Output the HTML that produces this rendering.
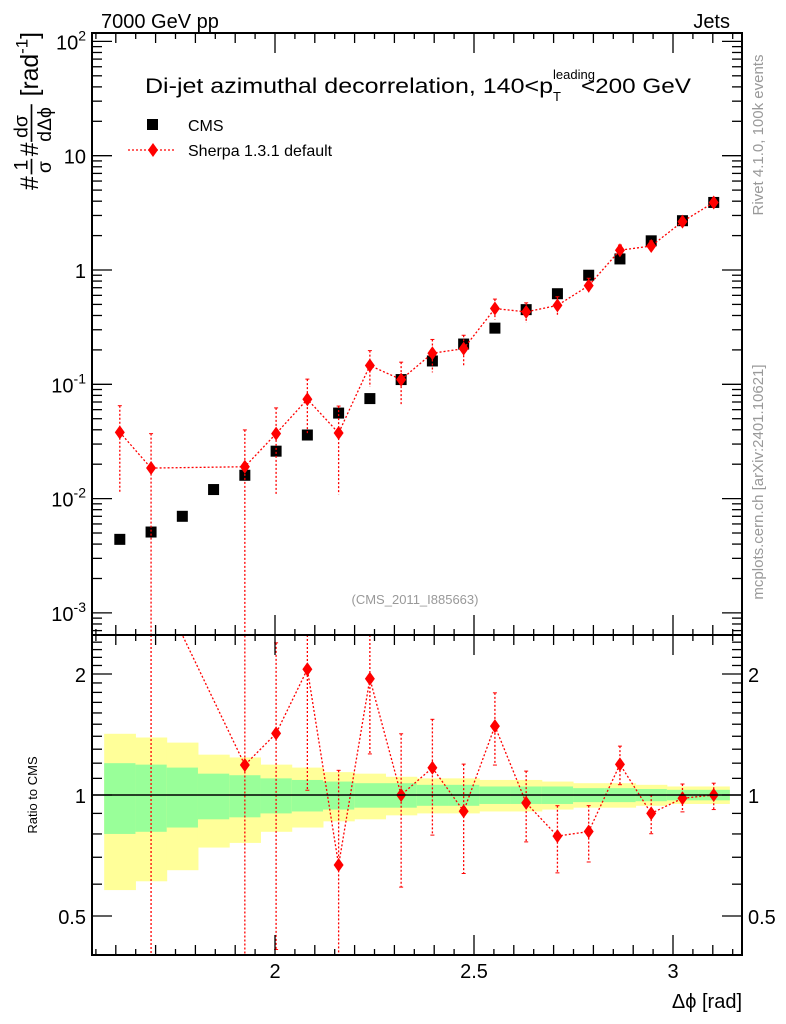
<!DOCTYPE html>
<html><head><meta charset="utf-8"><style>
html,body{margin:0;padding:0;background:#fff;width:786px;height:1024px;overflow:hidden;}
svg{display:block;font-family:"Liberation Sans",sans-serif;}
</style></head><body>
<svg id="chart" width="786" height="1024" viewBox="0 0 786 1024" xmlns="http://www.w3.org/2000/svg">
<defs>
<clipPath id="clipMain"><rect x="92" y="33" width="650" height="602"/></clipPath>
<clipPath id="clipRatio"><rect x="92" y="635" width="650" height="320"/></clipPath>
</defs>
<g id="bands" clip-path="url(#clipRatio)"></g>
<g id="marks"></g>
<g id="axes"></g>
<text x="101" y="28" font-size="20">7000 GeV pp</text>
<text x="730" y="28" font-size="20" text-anchor="end">Jets</text>
<g>
<text x="145" y="93" font-size="21" textLength="408" lengthAdjust="spacingAndGlyphs">Di-jet azimuthal decorrelation, 140&lt;p</text>
<text x="553" y="79" font-size="13">leading</text>
<text x="553" y="101" font-size="13">T</text>
<text x="581" y="93" font-size="21" textLength="110" lengthAdjust="spacingAndGlyphs">&lt;200 GeV</text>
</g>
<rect x="147" y="119" width="11" height="11" fill="#000"/>
<text x="188" y="131" font-size="16">CMS</text>
<line x1="128" y1="150" x2="175" y2="150" stroke="red" stroke-width="1.3" stroke-dasharray="2,2"/>
<path d="M153 143 L158 150 L153 157 L148 150 Z" fill="red"/>
<text x="188" y="156" font-size="16">Sherpa 1.3.1 default</text>
<text x="415" y="604" font-size="13" fill="#999" text-anchor="middle">(CMS_2011_I885663)</text>
<text transform="translate(763,135) rotate(-90)" font-size="15" fill="#999" text-anchor="middle">Rivet 4.1.0,  100k events</text>
<text transform="translate(763,482) rotate(-90)" font-size="15" fill="#999" text-anchor="middle">mcplots.cern.ch [arXiv:2401.10621]</text>
<g transform="translate(38,86) rotate(-90) scale(1.3)" font-size="19">
<text x="-80" y="0">#</text>
<text x="-65" y="-8" font-size="15">1</text>
<line x1="-68" y1="-5" x2="-56" y2="-5" stroke="#000" stroke-width="1.3"/>
<text x="-67" y="10" font-size="15">σ</text>
<text x="-54" y="0">#</text>
<text x="-40" y="-8" font-size="15">dσ</text>
<line x1="-43" y1="-5" x2="-14" y2="-5" stroke="#000" stroke-width="1.3"/>
<text x="-43" y="10" font-size="15">dΔϕ</text>
<text x="-8" y="0">[rad<tspan font-size="13" dy="-8">-1</tspan><tspan dy="8">]</tspan></text>
</g>
<text transform="translate(37,795) rotate(-90)" font-size="13" text-anchor="middle">Ratio to CMS</text>
<text x="742" y="1008" font-size="20" text-anchor="end">Δϕ [rad]</text>
</svg>
<script>
const cmsValues=[0.0044,0.0051,0.007,0.012,0.016,0.026,0.036,0.056,0.075,0.11,0.16,0.225,0.31,0.45,0.62,0.9,1.25,1.8,2.7,3.9];
const sherpaValues=[0.038,0.0185,null,null,0.019,0.037,0.074,0.0375,0.146,0.11,0.187,0.205,0.46,0.43,0.49,0.73,1.49,1.62,2.65,3.9];
const sherpaRelHi=[0.71,1.0,0,0,1.1,0.68,0.5,0.72,0.35,0.42,0.32,0.31,0.21,0.2,0.19,0.16,0.11,0.11,0.085,0.07];
const sherpaRelLo=[0.71,1.0,0,0,1.0,0.71,0.5,0.71,0.35,0.41,0.32,0.3,0.2,0.2,0.19,0.16,0.11,0.11,0.075,0.08];
const cmsTotErr=[0.42,0.39,0.35,0.26,0.24,0.19,0.17,0.14,0.13,0.11,0.10,0.10,0.09,0.09,0.08,0.07,0.07,0.06,0.05,0.05];
const cmsStatErr=[0.20,0.19,0.17,0.13,0.12,0.10,0.09,0.08,0.07,0.07,0.06,0.06,0.05,0.05,0.05,0.04,0.04,0.035,0.03,0.03];
const xTickLabels=["2","2.5","3"];
const yTickLabels=["10^-3","10^-2","10^-1","1","10","10^2"];
const ratioTickLabels=["0.5","1","2"];

const NS="http://www.w3.org/2000/svg";
const L=92,R=742,MT=33,MB=635,RT=635,RB=955;
const nb=cmsValues.length, lo=Math.PI/2, bw=(Math.PI-lo)/nb;
const xs=v=>275+(v-2)*398;
const ym=v=>270-Math.log10(v)*114.3;
const yr=v=>795-Math.log2(v)*121;
const cl=(y,a,b)=>Math.max(a,Math.min(b,y));
function mk(tag,attrs,parent){const e=document.createElementNS(NS,tag);for(const k in attrs)e.setAttribute(k,attrs[k]);parent.appendChild(e);return e;}
const bands=document.getElementById('bands'),marks=document.getElementById('marks'),axes=document.getElementById('axes');
for(let i=0;i<nb;i++){
 const x0=xs(lo+i*bw),x1=xs(lo+(i+1)*bw);
 let r=mk('rect',{x:x0,y:yr(1+cmsTotErr[i]),width:x1-x0+0.5,height:yr(1-cmsTotErr[i])-yr(1+cmsTotErr[i]),fill:'#ffff99'},bands);
 
 
 let g=mk('rect',{x:x0,y:yr(1+cmsStatErr[i]),width:x1-x0+0.5,height:yr(1-cmsStatErr[i])-yr(1+cmsStatErr[i]),fill:'#99ff99'},bands);
 
 
}
const one=mk('line',{x1:L,x2:R,y1:yr(1),y2:yr(1),stroke:'#000','stroke-width':1.5},axes);


const gm=mk('g',{'clip-path':'url(#clipMain)'},marks);
const gr=mk('g',{'clip-path':'url(#clipRatio)'},marks);
const cx=i=>xs(lo+(i+0.5)*bw);
let pm=[],pr=[];
for(let i=0;i<nb;i++){
 const s=mk('rect',{x:cx(i)-5.5,y:ym(cmsValues[i])-5.5,width:11,height:11,fill:'#000'},gm);
 
 
 const v=sherpaValues[i]; if(v==null)continue;
 const r=v/cmsValues[i];
 pm.push(cx(i)+','+ym(v)); pr.push(cx(i)+','+yr(r));
}
mk('polyline',{points:pm.join(' '),fill:'none',stroke:'red','stroke-width':1.3,'stroke-dasharray':'2,2'},gm);
mk('polyline',{points:pr.join(' '),fill:'none',stroke:'red','stroke-width':1.3,'stroke-dasharray':'2,2'},gr);
function diamond(x,y,g,name){const d=mk('path',{d:`M${x} ${y-7}L${x+5} ${y}L${x} ${y+7}L${x-5} ${y}Z`,fill:'red'},g);
 
 }
for(let i=0;i<nb;i++){
 const v=sherpaValues[i]; if(v==null)continue;
 const hi=v*(1+sherpaRelHi[i]), lw=Math.max(v*(1-sherpaRelLo[i]),1e-6);
 const r=v/cmsValues[i], rh=hi/cmsValues[i], rl=lw/cmsValues[i];
 mk('line',{x1:cx(i),x2:cx(i),y1:cl(ym(hi),MT,MB),y2:cl(ym(lw),MT,MB),stroke:'red','stroke-width':1.3,'stroke-dasharray':'2,2'},gm);
 mk('line',{x1:cx(i)-2,x2:cx(i)+2,y1:ym(hi),y2:ym(hi),stroke:'red','stroke-width':1},gm);
 mk('line',{x1:cx(i),x2:cx(i),y1:cl(yr(rh),RT,RB),y2:cl(yr(rl),RT,RB),stroke:'red','stroke-width':1.3,'stroke-dasharray':'2,2'},gr);
 if(yr(rh)>RT) mk('line',{x1:cx(i)-2,x2:cx(i)+2,y1:yr(rh),y2:yr(rh),stroke:'red','stroke-width':1},gr);
 if(yr(rl)<RB) mk('line',{x1:cx(i)-2,x2:cx(i)+2,y1:yr(rl),y2:yr(rl),stroke:'red','stroke-width':1},gr);
 diamond(cx(i),ym(v),gm,'sherpa-point');
 if(yr(r)>RT) diamond(cx(i),yr(r),gr,'sherpa-ratio-point');
}
mk('rect',{x:L,y:MT,width:R-L,height:MB-MT,fill:'none',stroke:'#000','stroke-width':2},axes);
mk('rect',{x:L,y:RT,width:R-L,height:RB-RT,fill:'none',stroke:'#000','stroke-width':2},axes);
const tk=(x1,y1,x2,y2)=>mk('line',{x1,y1,x2,y2,stroke:'#000','stroke-width':1.3},axes);
function txt(x,y,s,anchor,size){const t=mk('text',{x,y,'font-size':size||20,'text-anchor':anchor},axes);t.textContent=s;return t;}
for(let k=31;k<=63;k++){const v=k*0.05;const x=xs(v);if(x<L||x>R)continue;
 const major=(k%10===0), mid=(k%2===0);const len=major?20:(mid?10:6);
 for(const [t,b] of [[MT,MB],[RT,RB]]){tk(x,b,x,b-len);tk(x,t,x,t+len);}}
xTickLabels.forEach(s=>{const t=txt(xs(parseFloat(s)),978,s,'middle');});
for(let e=-4;e<=2;e++){for(let m=1;m<=9;m++){const v=m*Math.pow(10,e);const y=ym(v);if(y<MT||y>MB)continue;
 const len=m===1?20:10;tk(L,y,L+len,y);tk(R,y,R-len,y);}}
yTickLabels.forEach(s=>{let e=s==="1"?0:s==="10"?1:parseInt(s.split('^')[1]);const y=ym(Math.pow(10,e))+8;
 const t=mk('text',{x:86,y,'font-size':20,'text-anchor':'end'},axes);
 if(s.indexOf('^')<0){t.textContent=s;}else{t.textContent='10';const sp=mk('tspan',{dy:-9,'font-size':14},t);sp.textContent=s.split('^')[1];}});
const rt=[0.5,0.6,0.7,0.8,0.9,1,1.1,1.2,1.3,1.4,1.5,1.6,1.7,1.8,1.9,2,2.1,2.2,2.3,2.4,2.5];
rt.forEach(v=>{const y=yr(v);if(y<RT)return;const major=(v===0.5||v===1||v===2);const len=major?20:10;tk(L,y,L+len,y);tk(R,y,R-len,y);});
ratioTickLabels.forEach(s=>{const y=yr(parseFloat(s))+8;
 let a=txt(86,y,s,'end');
 let b=txt(748,y,s,'start');});
</script>
</body></html>
